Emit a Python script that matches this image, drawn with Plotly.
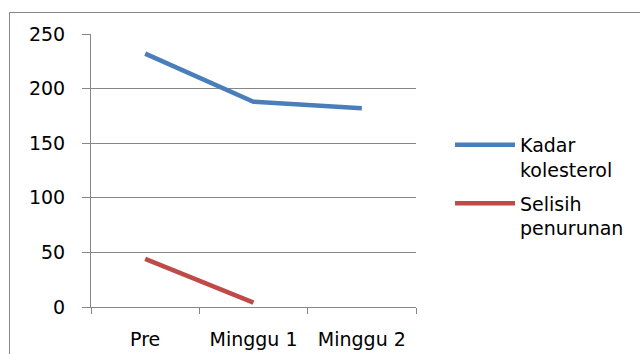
import plotly.graph_objects as go

categories = ["Pre", "Minggu 1", "Minggu 2"]
kadar = [232, 188, 182]
selisih = [44, 4, None]
names = ["Kadar<br>kolesterol", "Selisih<br>penurunan"]
colors = ["#4A7EBB", "#BE4B48"]

L, R, T, B = 91, 416, 34, 307
W, H = 640, 354

fig = go.Figure()
fig.add_trace(go.Scatter(x=categories, y=kadar, mode="lines", name=names[0],
                         legendgroup="a",
                         line=dict(color=colors[0], width=4.5)))
fig.add_trace(go.Scatter(x=categories, y=selisih, mode="lines", name=names[1],
                         legendgroup="b",
                         line=dict(color=colors[1], width=4.5)))

font = dict(family="DejaVu Sans", size=19, color="#000000")
def px(x):
    return (x - L) / (R - L)
def py(y):
    return (B - y) / (B - T)

fig.update_layout(
    width=W, height=H,
    margin=dict(l=L, r=W - R, t=T, b=H - B, autoexpand=False),
    paper_bgcolor="white", plot_bgcolor="white",
    font=font,
    showlegend=True,
    legend=dict(xref="container", yref="container",
                x=450 / W, y=1 - 126 / H, xanchor="left", yanchor="top",
                font=dict(family="DejaVu Sans", size=19, color="#000000"),
                itemwidth=60, valign="top", tracegroupgap=6,
                traceorder="grouped",
                bgcolor="rgba(0,0,0,0)"),
    xaxis=dict(type="category", range=[-0.5, 2.5], showgrid=False,
               showline=True, linecolor="#868686", linewidth=1,
               ticks="outside", tickson="boundaries", ticklen=6,
               tickcolor="#868686", tickfont=font, fixedrange=True,
               ticklabelstandoff=15, automargin=False),
    yaxis=dict(range=[0, 250], dtick=50, showgrid=True, gridcolor="#868686",
               gridwidth=1, showline=True, linecolor="#868686", linewidth=1,
               ticks="outside", ticklen=8, tickcolor="#868686",
               tickfont=font, zeroline=False, fixedrange=True,
               ticklabelstandoff=13, automargin=False),
    shapes=[dict(type="rect", xref="paper", yref="paper",
                 x0=px(9.5), x1=px(660), y0=py(380), y1=py(12.5),
                 line=dict(color="#868686", width=1), layer="below")],
)

fig.write_html("out.html")
